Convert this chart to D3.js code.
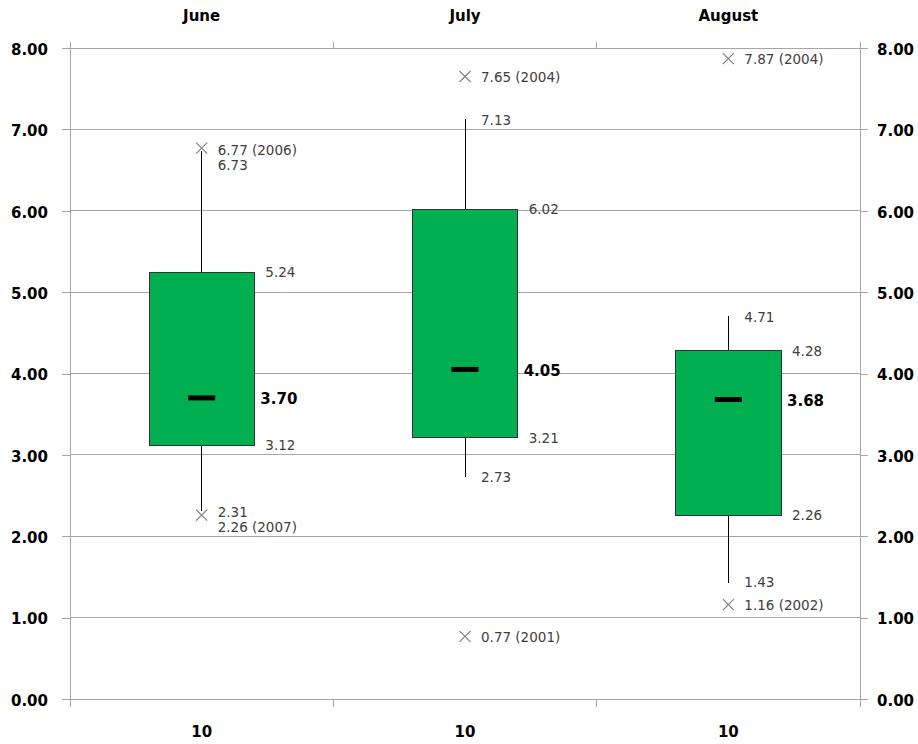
<!DOCTYPE html>
<html>
<head>
<meta charset="utf-8">
<script src="https://cdn.jsdelivr.net/npm/d3@7/dist/d3.min.js"></script>
<style>
  html, body { margin: 0; padding: 0; background: #fff; }
  svg { display: block; }
</style>
</head>
<body>
<svg id="chart" width="918" height="744"></svg>
<script>
// ---- Data ----
const months = ["June", "July", "August"];
const counts = ["10", "10", "10"];
const whiskerLow = [2.31, 2.73, 1.43];
const q1 = [3.12, 3.21, 2.26];
const median = [3.70, 4.05, 3.68];
const q3 = [5.24, 6.02, 4.28];
const whiskerHigh = [6.73, 7.13, 4.71];
const outlierMonth = ["June", "June", "July", "July", "August", "August"];
const outlierValue = [6.77, 2.26, 7.65, 0.77, 7.87, 1.16];
const outlierYear = [2006, 2007, 2004, 2001, 2004, 2002];
const yTicks = [0, 1, 2, 3, 4, 5, 6, 7, 8];

(function () {
// ---- Layout ----
const plotLeft = 70, plotRight = 860, plotTop = 48, plotBottom = 699;
const svg = d3.select("#chart");

const x = d3.scaleBand().domain(months).range([plotLeft, plotRight]).padding(0);
const y = d3.scaleLinear().domain([0, 8]).range([plotBottom, plotTop]);
const bw = x.bandwidth() * 0.4;
const cx = m => x(m) + x.bandwidth() / 2;

const gridColor = "#a6a6a6";
const labelFont = "'DejaVu Sans', Verdana, sans-serif";
const labelColor = "#404040";

// gridlines
svg.append("g").selectAll("line").data(yTicks).join("line")
  .attr("x1", plotLeft).attr("x2", plotRight)
  .attr("y1", d => y(d)).attr("y2", d => y(d))
  .attr("stroke", gridColor).attr("stroke-width", 1)
  .attr("shape-rendering", "crispEdges");

// y axes
const yFmt = d3.format(".2f");
const gL = svg.append("g").attr("transform", `translate(${plotLeft},0)`)
  .call(d3.axisLeft(y).tickValues(yTicks).tickFormat(yFmt).tickSize(8).tickSizeOuter(0));
const gR = svg.append("g").attr("transform", `translate(${plotRight},0)`)
  .call(d3.axisRight(y).tickValues(yTicks).tickFormat(yFmt).tickSize(8).tickSizeOuter(0));
[gL, gR].forEach(g => {
  g.select(".domain").remove();
  g.selectAll(".tick line").attr("stroke", gridColor).attr("shape-rendering", "crispEdges");
  g.selectAll(".tick text")
    .attr("font-family", labelFont).attr("font-weight", "bold")
    .attr("font-size", 15).attr("fill", "#000").attr("dy", "0.42em");
});
gL.selectAll(".tick text").attr("x", -22);
gR.selectAll(".tick text").attr("x", 17);

// vertical axis lines
[plotLeft, plotRight].forEach(xx => {
  svg.append("line").attr("x1", xx).attr("x2", xx).attr("y1", plotTop - 6).attr("y2", plotBottom + 8)
    .attr("stroke", gridColor).attr("shape-rendering", "crispEdges");
});

// category boundary ticks (top and bottom)
const bounds = months.slice(1).map(m => x(m));
svg.append("g").selectAll("line").data(bounds).join("line")
  .attr("x1", d => d).attr("x2", d => d).attr("y1", plotTop - 6).attr("y2", plotTop)
  .attr("stroke", gridColor).attr("shape-rendering", "crispEdges");
svg.append("g").selectAll("line").data(bounds).join("line")
  .attr("x1", d => d).attr("x2", d => d).attr("y1", plotBottom).attr("y2", plotBottom + 8)
  .attr("stroke", gridColor).attr("shape-rendering", "crispEdges");

// top month labels
svg.append("g").selectAll("text").data(months).join("text")
  .attr("x", d => cx(d)).attr("y", 16).attr("dy", "0.36em")
  .attr("text-anchor", "middle")
  .attr("font-family", labelFont).attr("font-weight", "bold").attr("font-size", 15)
  .attr("fill", "#000").text(d => d);

// bottom count labels
svg.append("g").selectAll("text").data(months).join("text")
  .attr("x", d => cx(d)).attr("y", 732).attr("dy", "0.36em")
  .attr("text-anchor", "middle")
  .attr("font-family", labelFont).attr("font-weight", "bold").attr("font-size", 15)
  .attr("fill", "#000").text((d, i) => counts[i]);

// boxes
const plot = svg.append("g");
months.forEach((m, i) => {
  const c = cx(m);
  plot.append("line").attr("x1", c).attr("x2", c)
    .attr("y1", y(q3[i])).attr("y2", y(whiskerHigh[i]))
    .attr("stroke", "#000").attr("stroke-width", 1).attr("shape-rendering", "crispEdges");
  plot.append("line").attr("x1", c).attr("x2", c)
    .attr("y1", y(q1[i])).attr("y2", y(whiskerLow[i]))
    .attr("stroke", "#000").attr("stroke-width", 1).attr("shape-rendering", "crispEdges");
  plot.append("rect")
    .attr("x", c - bw / 2).attr("width", bw)
    .attr("y", y(q3[i])).attr("height", y(q1[i]) - y(q3[i]))
    .attr("fill", "#00b050").attr("stroke", "#333").attr("stroke-width", 1)
    .attr("shape-rendering", "crispEdges");
  plot.append("rect")
    .attr("x", c - 13.5).attr("width", 27)
    .attr("y", y(median[i]) - 2.5).attr("height", 5)
    .attr("fill", "#000");
});

// outlier markers
const xs = 5.5;
outlierValue.forEach((v, j) => {
  const c = cx(outlierMonth[j]), yy = y(v);
  plot.append("path")
    .attr("d", `M${c - xs},${yy - xs}L${c + xs},${yy + xs}M${c - xs},${yy + xs}L${c + xs},${yy - xs}`)
    .attr("stroke", "#808080").attr("stroke-width", 1.2).attr("fill", "none");
});

// labels
const labels = [];
months.forEach((m, i) => {
  const c = cx(m);
  labels.push({ m, x: c + bw / 2 + 11, y: y(q3[i]), t: q3[i].toFixed(2), kind: "q" });
  labels.push({ m, x: c + bw / 2 + 11, y: y(q1[i]), t: q1[i].toFixed(2), kind: "q" });
  labels.push({ m, x: c + bw / 2 + 6, y: y(median[i]) + 1, t: median[i].toFixed(2), kind: "med" });
  labels.push({ m, x: c + 16, y: y(whiskerHigh[i]) + 1, t: whiskerHigh[i].toFixed(2), kind: "w" });
  labels.push({ m, x: c + 16, y: y(whiskerLow[i]), t: whiskerLow[i].toFixed(2), kind: "w" });
});
outlierValue.forEach((v, j) => {
  labels.push({ m: outlierMonth[j], x: cx(outlierMonth[j]) + 16, y: y(v) + 1,
    t: `${v.toFixed(2)} (${outlierYear[j]})`, kind: "o" });
});
// resolve collisions between whisker and outlier labels in the same month
months.forEach(m => {
  const group = labels.filter(l => l.m === m && (l.kind === "w" || l.kind === "o"))
    .sort((a, b) => a.y - b.y);
  for (let k = 0; k < group.length - 1; k++) {
    const a = group[k], b = group[k + 1];
    if (b.y - a.y < 15) {
      const mid = (a.y + b.y) / 2;
      a.y = mid - 1; b.y = mid + 14;
    }
  }
});

svg.append("g").selectAll("text").data(labels).join("text")
  .attr("x", d => d.x).attr("y", d => d.y).attr("dy", "0.36em")
  .attr("font-family", labelFont)
  .attr("font-size", d => d.kind === "med" ? 15 : 13.5)
  .attr("font-weight", d => d.kind === "med" ? "bold" : "normal")
  .attr("fill", d => d.kind === "med" ? "#000" : labelColor)
  .text(d => d.t);
})();
</script>
</body>
</html>
